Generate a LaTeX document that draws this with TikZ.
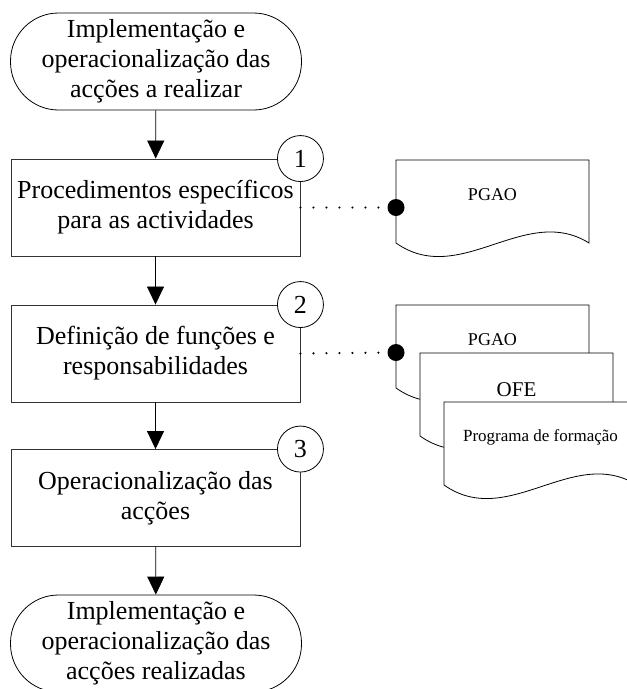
\documentclass[tikz,border=0pt]{standalone}
\usepackage{fontspec}
\setmainfont{Liberation Serif}
\usetikzlibrary{arrows.meta}

\tikzset{
  stepbox/.style={draw=black!80, line width=0.9pt, minimum width=289pt, minimum height=97pt,
    inner sep=2pt, align=center, font=\fontsize{26}{30}\selectfont},
  term/.style={draw, line width=0.8pt, rounded corners=48pt, minimum width=291pt, minimum height=97pt,
    inner sep=2pt, align=center, font=\fontsize{26}{30}\selectfont},
  num/.style={circle, draw, fill=white, line width=0.8pt, minimum size=46pt, inner sep=0pt,
    font=\fontsize{26}{30}\selectfont},
  flow/.style={-{Triangle[length=18pt,width=17pt]}, line width=0.8pt},
  link/.style={line width=2.4pt, line cap=round, dash pattern=on 0pt off 13pt},
  pin/.style={circle, fill, minimum size=17pt, inner sep=0pt},
  docpage/.pic={
    \draw[fill=white, line width=0.8pt] (0,0) -- (0,83)
      .. controls (64,128) and (129,43) .. (193,83) -- (193,0) -- cycle;
  }
}

\begin{document}
\begin{tikzpicture}[x=1pt,y=-1pt]
\path[use as bounding box] (0,0) rectangle (627,689);
\clip (0,0) rectangle (627,689);

% flow
\node[term] (start) at (156,61.5) {Implementação e\\operacionalização das\\acções a realizar};
\node[stepbox] (proc) at (155.5,207.5) {Procedimentos específicos\\para as actividades};
\node[stepbox] (func) at (155.5,353.5) {Definição de funções e\\responsabilidades};
\node[stepbox] (oper) at (155.5,498) {Operacionalização das\\acções};
\node[term] (finish) at (156,643.5) {Implementação e\\operacionalização das\\acções realizadas};

\draw[flow] (start) -- (proc);
\draw[flow] (proc) -- (func);
\draw[flow] (func) -- (oper);
\draw[flow] (oper) -- (finish);

\node[num] (n1) at (proc.north east) {1};
\node[num] (n2) at (func.north east) {2};
\node[num] (n3) at (oper.north east) {3};

% documents
\pic at (396,160) {docpage};
\node[font=\fontsize{18}{20}\selectfont] (pgaoA) at (492.5,195) {PGAO};
\pic at (396,305) {docpage};
\node[font=\fontsize{18}{20}\selectfont] (pgaoB) at (492.5,340) {PGAO};
\pic at (420,353) {docpage};
\node[font=\fontsize{21}{24}\selectfont] (ofe) at (516.5,390) {OFE};
\pic at (444,402) {docpage};
\node[font=\fontsize{17}{20}\selectfont] (prog) at (540.5,437) {Programa de formação};

\node[pin] (pinA) at (396,207.5) {};
\node[pin] (pinB) at (396,352.5) {};
\draw[link] (proc.east) -- (pinA);
\draw[link] (func.east) -- (pinB);
\end{tikzpicture}
\end{document}
